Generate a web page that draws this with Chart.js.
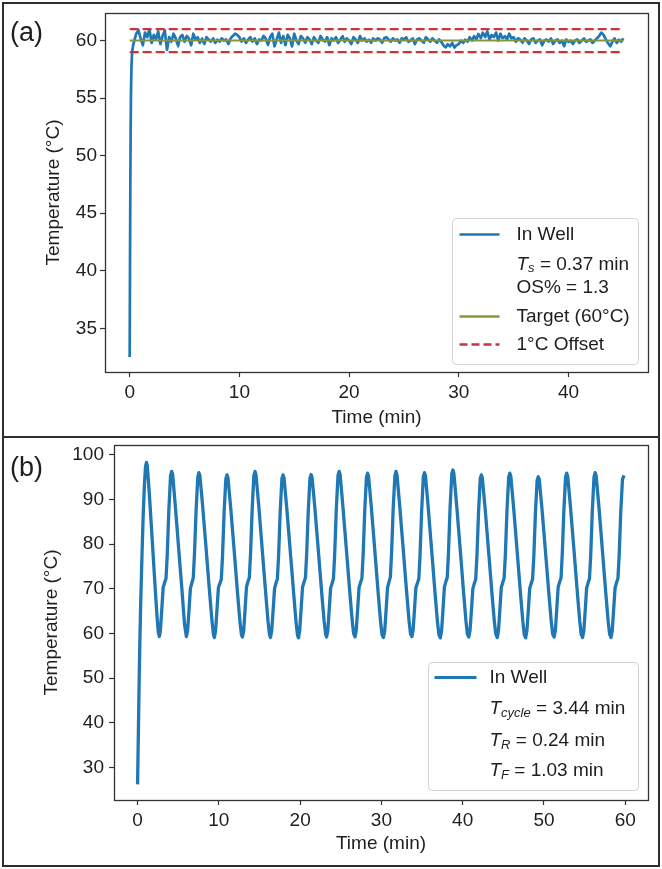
<!DOCTYPE html>
<html>
<head>
<meta charset="utf-8">
<script src="https://cdn.jsdelivr.net/npm/chart.js@4.4.1/dist/chart.umd.min.js"></script>
<style>
html,body{margin:0;padding:0;background:#fff;}
#wrap{position:relative;width:662px;height:869px;overflow:hidden;background:#fff;font-family:"Liberation Sans",Arial,sans-serif;}
canvas{position:absolute;left:0;}
#cA{top:0;}
#cB{top:437px;}
.frame{position:absolute;left:2px;top:2px;width:658px;height:865px;box-sizing:border-box;border:2px solid #2e2e2e;pointer-events:none;}
.divider{position:absolute;left:2px;top:436px;width:658px;height:2px;background:#2e2e2e;pointer-events:none;}
.plabel{position:absolute;left:10px;font-size:27px;color:#1e1e1e;line-height:1;}
</style>
</head>
<body>
<div id="wrap">
  <canvas id="cA" width="662" height="437"></canvas>
  <canvas id="cB" width="662" height="432"></canvas>
  <div class="frame"></div>
  <div class="divider"></div>
  <div class="plabel" style="top:19px;">(a)</div>
  <div class="plabel" style="top:454px;">(b)</div>
</div>
<script>
// ---------------- Panel (a) data ----------------
const riseTimeA = [0, 0.03, 0.06, 0.09, 0.12, 0.16, 0.2, 0.25, 0.3, 0.37, 0.45];
const riseTempA = [32.5, 40.5, 47.5, 52.5, 55.6, 57.6, 58.6, 59.2, 59.5, 59.8, 60.1];
const holdStartA = 0.6;   // min, logger sample start
const holdStepA = 0.2;    // min, logger sample interval
const holdTempA = [
  60.6, 60.9, 60.2, 59.6, 60.7, 60.3, 61.0, 59.8, 60.5, 60.1,
  60.8, 59.7, 60.4, 60.9, 59.2, 60.3, 59.9, 60.6, 60.2, 59.5,
  60.3, 60.5, 59.9, 60.4, 60.2, 59.6, 60.6, 60.1, 60.3, 59.8,
  60.2, 59.7, 60.3, 60.1, 59.9, 60.2, 59.8, 60.1, 59.9, 60.2,
  60.0, 60.1, 59.7, 60.2, 60.4, 60.6, 60.5, 60.3, 59.9, 60.2,
  59.8, 60.1, 60.3, 59.9, 60.2, 59.7, 60.1, 60.0, 60.4, 60.2,
  59.6, 60.3, 60.6, 59.5, 60.1, 60.7, 59.8, 60.4, 59.6, 60.5,
  60.2, 59.5, 60.6, 60.0, 59.7, 60.4, 60.2, 59.8, 60.3, 60.1,
  59.7, 60.3, 60.0, 59.8, 60.4, 60.1, 59.9, 60.3, 59.6, 60.2,
  60.0, 60.3, 59.8, 60.1, 60.4, 59.9, 60.2, 60.0, 59.7, 60.3,
  60.1, 59.8, 60.4, 60.0, 60.2, 59.9, 60.1, 59.8, 60.2, 60.0,
  60.2, 60.1, 59.8, 60.2, 60.3, 60.1, 59.9, 60.2, 60.0, 60.1,
  59.8, 60.2, 60.1, 60.3, 59.9, 60.0, 60.2, 59.7, 60.1, 60.2,
  60.0, 59.8, 60.3, 60.1, 59.9, 60.2, 60.0, 59.8, 60.1, 59.9,
  59.6, 59.4, 59.7, 59.5, 59.8, 59.4, 59.6, 59.7, 60.0, 59.8,
  60.1, 59.9, 60.3, 60.0, 60.4, 60.1, 60.6, 60.2, 60.7, 60.3,
  60.8, 60.1, 60.5, 60.3, 60.7, 60.0, 60.6, 60.2, 60.4, 60.1,
  60.6, 60.2, 60.3, 59.9, 60.2, 60.1, 59.8, 60.2, 60.0, 59.7,
  60.1, 60.2, 59.8, 60.0, 60.1, 59.6, 60.0, 60.1, 59.9, 60.2,
  59.7, 60.0, 60.1, 59.8, 60.0, 59.5, 60.1, 59.9, 60.0, 59.7,
  60.0, 60.1, 59.8, 60.0, 60.2, 59.9, 60.0, 60.1, 59.8, 60.0,
  60.2, 60.4, 60.7, 60.5, 60.1, 59.8, 59.5, 59.9, 60.2, 59.8,
  60.1, 59.9, 60.2
];
const targetTimeA = [0, 45];
const targetTempA = [60, 60];
const upperOffsetA = [61, 61];
const lowerOffsetA = [59, 59];
const xTicksA = [0, 10, 20, 30, 40];
const yTicksA = [35, 40, 45, 50, 55, 60];
const xRangeA = [-2.25, 47.25];
const yRangeA = [31.2, 62.4];

// ---------------- Panel (b) data ----------------
const timeB = [
  0, 0.1, 0.2, 0.28, 0.38, 0.49, 0.6, 0.7, 0.85, 0.98, 1.1,
  1.2, 1.45, 1.8, 2.15, 2.4, 2.55, 2.68, 2.8, 2.98, 3.15, 3.33, 3.5, 3.65, 3.85, 4.06, 4.2,
  4.32, 4.65, 5.1, 5.5, 5.78, 6.0, 6.15, 6.33, 6.5, 6.68, 6.85, 7.0, 7.2, 7.41, 7.55,
  7.67, 8.0, 8.45, 8.85, 9.15, 9.33, 9.45, 9.6, 9.78, 9.95, 10.13, 10.3, 10.45, 10.65, 10.86, 11.0,
  11.12, 11.45, 11.9, 12.3, 12.6, 12.78, 12.9, 13.05, 13.23, 13.4, 13.58, 13.75, 13.9, 14.1, 14.31, 14.45,
  14.57, 14.9, 15.35, 15.75, 16.05, 16.23, 16.35, 16.5, 16.68, 16.85, 17.03, 17.2, 17.35, 17.55, 17.76, 17.9,
  18.02, 18.35, 18.8, 19.2, 19.5, 19.68, 19.8, 19.95, 20.13, 20.3, 20.48, 20.65, 20.8, 21.0, 21.21, 21.35,
  21.47, 21.8, 22.25, 22.65, 22.95, 23.13, 23.25, 23.4, 23.58, 23.75, 23.93, 24.1, 24.25, 24.45, 24.66, 24.8,
  24.92, 25.25, 25.7, 26.1, 26.4, 26.58, 26.75, 26.9, 27.08, 27.25, 27.43, 27.6, 27.75, 27.95, 28.16, 28.3,
  28.42, 28.75, 29.2, 29.6, 29.9, 30.08, 30.25, 30.4, 30.58, 30.75, 30.93, 31.1, 31.25, 31.45, 31.66, 31.8,
  31.92, 32.25, 32.7, 33.1, 33.4, 33.58, 33.75, 33.9, 34.08, 34.25, 34.43, 34.6, 34.75, 34.95, 35.16, 35.3,
  35.42, 35.75, 36.2, 36.6, 36.9, 37.08, 37.25, 37.4, 37.58, 37.75, 37.93, 38.1, 38.25, 38.45, 38.66, 38.8,
  38.92, 39.25, 39.7, 40.1, 40.4, 40.58, 40.75, 40.9, 41.08, 41.25, 41.43, 41.6, 41.75, 41.95, 42.16, 42.3,
  42.42, 42.75, 43.2, 43.6, 43.9, 44.08, 44.25, 44.4, 44.58, 44.75, 44.93, 45.1, 45.25, 45.45, 45.66, 45.8,
  45.92, 46.25, 46.7, 47.1, 47.4, 47.58, 47.75, 47.9, 48.08, 48.25, 48.43, 48.6, 48.75, 48.95, 49.16, 49.3,
  49.42, 49.75, 50.2, 50.6, 50.9, 51.08, 51.25, 51.4, 51.58, 51.75, 51.93, 52.1, 52.25, 52.45, 52.66, 52.8,
  52.92, 53.25, 53.7, 54.1, 54.4, 54.58, 54.75, 54.9, 55.08, 55.25, 55.43, 55.6, 55.75, 55.95, 56.16, 56.3,
  56.42, 56.75, 57.2, 57.6, 57.9, 58.08, 58.25, 58.4, 58.58, 58.75, 58.93, 59.1, 59.25, 59.45, 59.66, 59.85
];
const tempB = [
  26.2, 38, 50, 58, 66.5, 74, 81, 87, 93.5, 97.4, 98.3,
  97.5, 91.2, 81.0, 70.6, 63.6, 60.3, 59.3, 60.5, 65.4, 70.3, 71.4, 72.3, 77.6, 87.7, 95.4, 96.3,
  95.6, 88.4, 78.0, 68.8, 62.0, 59.3, 60.5, 65.3, 70.1, 71.3, 72.4, 77.8, 87.6, 95.0, 96.0,
  95.3, 88.7, 78.6, 69.4, 62.9, 59.8, 59.1, 60.7, 65.6, 70.3, 71.2, 72.1, 77.3, 87.2, 94.6, 95.5,
  94.9, 88.3, 78.2, 69.0, 62.6, 59.7, 59.2, 60.5, 65.4, 70.4, 71.6, 72.5, 77.9, 87.9, 95.4, 96.3,
  95.5, 88.8, 78.5, 69.3, 62.7, 59.8, 59.1, 60.6, 65.2, 70.0, 71.3, 72.2, 77.4, 87.3, 94.7, 95.5,
  94.8, 88.2, 78.1, 69.1, 62.5, 59.6, 59.0, 60.7, 65.7, 70.4, 71.5, 72.4, 77.6, 87.4, 94.8, 95.6,
  94.9, 88.4, 78.3, 69.2, 62.8, 59.9, 59.2, 60.5, 65.4, 70.1, 71.2, 72.3, 77.7, 87.8, 95.4, 96.3,
  95.6, 88.7, 78.6, 69.5, 63.0, 60.0, 59.2, 60.6, 65.5, 70.3, 71.4, 72.3, 77.5, 87.5, 95.0, 95.9,
  95.2, 88.5, 78.3, 69.1, 62.6, 59.7, 59.1, 60.4, 65.3, 70.2, 71.5, 72.6, 78.0, 88.0, 95.3, 96.3,
  95.5, 88.6, 78.5, 69.3, 62.9, 59.9, 59.3, 60.7, 65.6, 70.3, 71.3, 72.2, 77.4, 87.4, 95.1, 96.0,
  95.3, 88.4, 78.2, 69.0, 62.5, 59.7, 59.0, 60.5, 65.4, 70.4, 71.6, 72.5, 78.1, 88.2, 95.7, 96.6,
  95.8, 88.9, 78.7, 69.4, 62.8, 59.8, 59.2, 60.6, 65.2, 70.0, 71.2, 72.1, 77.2, 87.1, 94.7, 95.5,
  94.8, 88.2, 78.1, 69.0, 62.6, 59.8, 59.1, 60.5, 65.5, 70.3, 71.4, 72.4, 77.6, 87.6, 95.0, 95.9,
  95.2, 88.5, 78.4, 69.2, 62.7, 59.7, 59.0, 60.6, 65.4, 70.1, 71.2, 72.2, 77.2, 87.0, 94.3, 95.1,
  94.5, 88.0, 78.0, 69.0, 62.6, 59.8, 59.2, 60.6, 65.6, 70.4, 71.5, 72.4, 77.7, 87.6, 95.0, 95.9,
  95.2, 88.6, 78.5, 69.3, 62.8, 59.8, 59.1, 60.5, 65.3, 70.2, 71.3, 72.3, 77.5, 87.5, 95.1, 96.0,
  95.3, 88.6, 78.4, 69.2, 62.7, 59.8, 59.1, 60.6, 65.5, 70.2, 71.4, 72.3, 77.4, 87.3, 94.5, 95.4
];
const xTicksB = [0, 10, 20, 30, 40, 50, 60];
const yTicksB = [30, 40, 50, 60, 70, 80, 90, 100];
const xRangeB = [-2.9, 62.8];
const yRangeB = [22.7, 102.2];

// ---------------- styling ----------------
const FONT = '"Liberation Sans", Arial, Helvetica, sans-serif';
const TXT = '#1e1e1e';
const BLUE = '#1f77b4';
const OLIVE = '#86963a';
const RED = '#c8363a';

function pairs(xs, ys) {
  const n = Math.min(xs.length, ys.length);
  const out = [];
  for (let i = 0; i < n; i++) out.push({x: xs[i], y: ys[i]});
  return out;
}
const holdTimeA = holdTempA.map((_, i) => +(holdStartA + i * holdStepA).toFixed(2));
const inWellA = pairs(riseTimeA.concat(holdTimeA), riseTempA.concat(holdTempA));

const spinePlugin = {
  id: 'spines',
  afterDatasetsDraw(chart) {
    const {ctx, chartArea: a} = chart;
    ctx.save();
    ctx.strokeStyle = '#333';
    ctx.lineWidth = 1.3;
    ctx.strokeRect(Math.round(a.left) + 0.5, Math.round(a.top) + 0.5, Math.round(a.right - a.left), Math.round(a.bottom - a.top));
    ctx.restore();
  }
};

const legendPlugin = {
  id: 'boxLegend',
  afterDraw(chart, args, o) {
    if (!o || !o.items) return;
    const {ctx, chartArea: a} = chart;
    const x0 = Math.round(a.right - o.right - o.w) + 0.5;
    const y0 = Math.round(a.bottom - o.bottom - o.h) + 0.5;
    ctx.save();
    ctx.beginPath();
    if (ctx.roundRect) ctx.roundRect(x0, y0, o.w, o.h, 4); else ctx.rect(x0, y0, o.w, o.h);
    ctx.fillStyle = 'rgba(255,255,255,0.9)';
    ctx.fill();
    ctx.strokeStyle = '#d2d2d2';
    ctx.lineWidth = 1;
    ctx.stroke();
    ctx.textBaseline = 'middle';
    ctx.textAlign = 'left';
    for (const it of o.items) {
      const y = y0 + it.y;
      if (it.color) {
        ctx.beginPath();
        ctx.setLineDash(it.dash || []);
        ctx.strokeStyle = it.color;
        ctx.lineWidth = it.lw || 2.5;
        ctx.moveTo(x0 + o.s0, y);
        ctx.lineTo(x0 + o.s1, y);
        ctx.stroke();
        ctx.setLineDash([]);
      }
      let x = x0 + o.tx;
      for (const r of it.runs) {
        const size = r.size || 19;
        ctx.font = (r.italic ? 'italic ' : '') + size + 'px ' + FONT;
        ctx.fillStyle = TXT;
        ctx.fillText(r.text, x, y + (r.dy || 0));
        x += ctx.measureText(r.text).width;
      }
    }
    ctx.restore();
  }
};

function axes(xRange, yRange, xTicks, yTicks, yW, xH, yTitlePad, xTitlePad, yTickPad) {
  const tickFont = {family: FONT, size: 19};
  return {
    x: {
      type: 'linear', min: xRange[0], max: xRange[1],
      afterBuildTicks: s => { s.ticks = xTicks.map(v => ({value: v})); },
      afterFit: s => { s.height = xH; s.paddingLeft = 0; s.paddingRight = 0; },
      grid: {display: true, drawOnChartArea: false, drawTicks: true, tickLength: 5, color: '#333', tickWidth: 1.2},
      border: {display: false},
      ticks: {color: TXT, font: tickFont, padding: 4, maxRotation: 0, autoSkip: false},
      title: {display: true, text: 'Time (min)', color: TXT, font: {family: FONT, size: 19}, padding: {top: 0, bottom: xTitlePad}}
    },
    y: {
      type: 'linear', min: yRange[0], max: yRange[1],
      afterBuildTicks: s => { s.ticks = yTicks.map(v => ({value: v})); },
      afterFit: s => { s.width = yW; s.paddingTop = 0; s.paddingBottom = 0; },
      grid: {display: true, drawOnChartArea: false, drawTicks: true, tickLength: 5, color: '#333', tickWidth: 1.2},
      border: {display: false},
      ticks: {color: TXT, font: tickFont, padding: yTickPad, autoSkip: false},
      title: {display: true, text: 'Temperature (°C)', color: TXT, font: {family: FONT, size: 19}, padding: {top: yTitlePad, bottom: 0}}
    }
  };
}

new Chart(document.getElementById('cA'), {
  type: 'line',
  data: {
    datasets: [
      {label: 'In Well', data: inWellA, borderColor: BLUE, borderWidth: 2.7, pointRadius: 0, tension: 0.001, borderJoinStyle: 'round', order: 3},
      {label: 'Target (60°C)', data: pairs(targetTimeA, targetTempA), borderColor: OLIVE, borderWidth: 2, pointRadius: 0, order: 2},
      {label: '1°C Offset', data: pairs(targetTimeA, upperOffsetA), borderColor: RED, borderWidth: 2.4, borderDash: [9, 4], pointRadius: 0, order: 1},
      {label: '1°C Offset (low)', data: pairs(targetTimeA, lowerOffsetA), borderColor: RED, borderWidth: 2.4, borderDash: [9, 4], pointRadius: 0, order: 1}
    ]
  },
  options: {
    responsive: false, animation: false, devicePixelRatio: 1,
    layout: {padding: {left: 0, top: 13, right: 14, bottom: 0}},
    scales: axes(xRangeA, yRangeA, xTicksA, yTicksA, 105, 65, 42.6, 8, 3),
    plugins: {
      legend: {display: false}, tooltip: {enabled: false},
      boxLegend: {
        w: 186, h: 146, right: 10, bottom: 8, s0: 7, s1: 47, tx: 64,
        items: [
          {y: 16, color: BLUE, lw: 2.5, runs: [{text: 'In Well'}]},
          {y: 46, runs: [{text: 'T', italic: true}, {text: 's', italic: true, size: 13, dy: 4}, {text: ' = 0.37 min'}]},
          {y: 69, runs: [{text: 'OS% = 1.3'}]},
          {y: 98, color: OLIVE, lw: 2.5, runs: [{text: 'Target (60°C)'}]},
          {y: 126, color: RED, lw: 2.5, dash: [8, 4], runs: [{text: '1°C Offset'}]}
        ]
      }
    }
  },
  plugins: [spinePlugin, legendPlugin]
});

new Chart(document.getElementById('cB'), {
  type: 'line',
  data: {
    datasets: [
      {label: 'In Well', data: pairs(timeB, tempB), borderColor: BLUE, borderWidth: 3.3, pointRadius: 0, tension: 0.001, borderJoinStyle: 'round'}
    ]
  },
  options: {
    responsive: false, animation: false, devicePixelRatio: 1,
    layout: {padding: {left: 0, top: 8, right: 14, bottom: 0}},
    scales: axes(xRangeB, yRangeB, xTicksB, yTicksB, 114, 69, 40.6, 13.6, 5),
    plugins: {
      legend: {display: false}, tooltip: {enabled: false},
      boxLegend: {
        w: 210, h: 128, right: 10, bottom: 10, s0: 6, s1: 48, tx: 61,
        items: [
          {y: 15, color: BLUE, lw: 2.8, runs: [{text: 'In Well'}]},
          {y: 46, runs: [{text: 'T', italic: true}, {text: 'cycle', italic: true, size: 13, dy: 5}, {text: ' = 3.44 min'}]},
          {y: 78, runs: [{text: 'T', italic: true}, {text: 'R', italic: true, size: 13, dy: 5}, {text: ' = 0.24 min'}]},
          {y: 108, runs: [{text: 'T', italic: true}, {text: 'F', italic: true, size: 13, dy: 5}, {text: ' = 1.03 min'}]}
        ]
      }
    }
  },
  plugins: [spinePlugin, legendPlugin]
});
</script>
</body>
</html>
